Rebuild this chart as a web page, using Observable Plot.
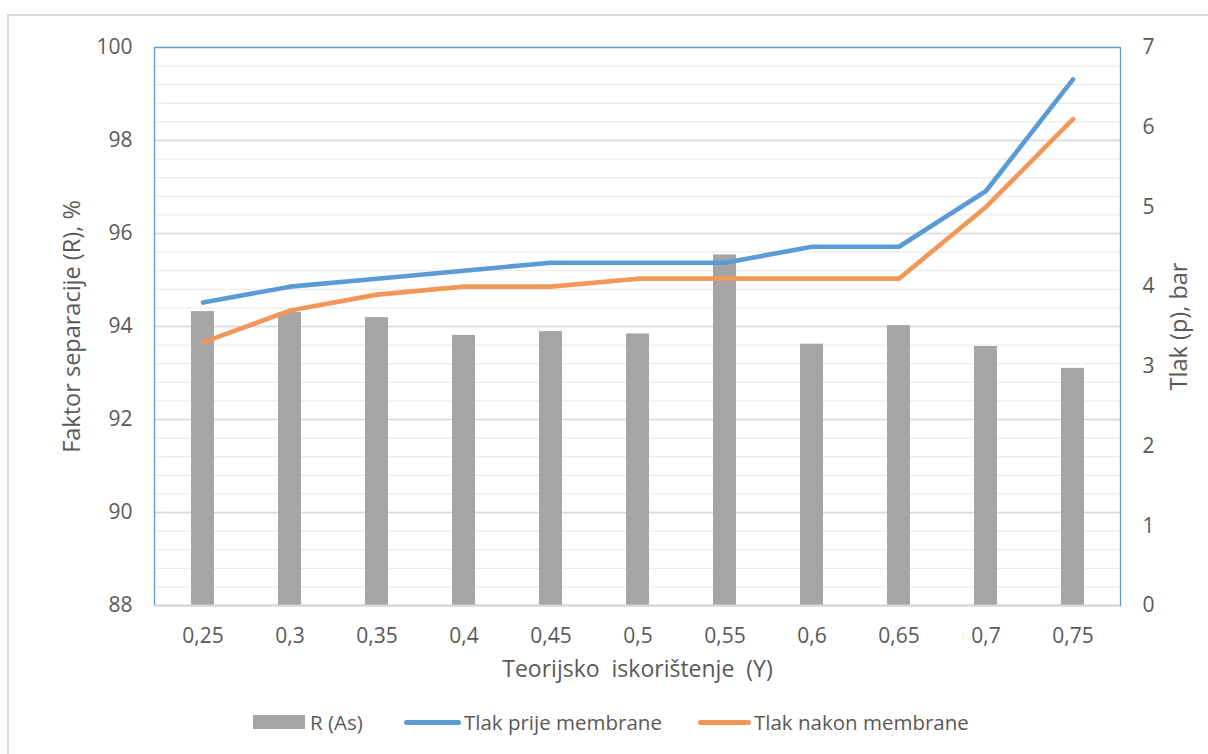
<!DOCTYPE html>
<html>
<head>
<meta charset="utf-8">
<script src="https://cdn.jsdelivr.net/npm/d3@7"></script>
<script src="https://cdn.jsdelivr.net/npm/@observablehq/plot@0.6"></script>
<style>
  html, body { margin: 0; padding: 0; background: #fff; overflow: hidden; }
  body { width: 1208px; height: 754px; position: relative; font-family: "Open Sans", sans-serif; }
  #border { position: absolute; left: 7px; top: 14px; width: 1400px; height: 1000px; border-left: 2px solid #d9d9d9; border-top: 2px solid #d9d9d9; }
  #chart { position: absolute; left: 0; top: 0; }
  #legend { position: absolute; left: 0; top: 700px; width: 1208px; height: 44px; }
  .item { position: absolute; top: 0; height: 44px; display: flex; align-items: center; font-size: 20.5px; color: #595959; white-space: nowrap; }
  .sw { display: inline-block; margin-right: 5px; }
</style>
</head>
<body>
<div id="border"></div>
<div id="chart"></div>
<div id="legend"></div>
<script>
// Categories (Teorijsko iskorištenje Y)
const categories = ["0,25","0,3","0,35","0,4","0,45","0,5","0,55","0,6","0,65","0,7","0,75"];
// Faktor separacije R (As), % (left axis)
const rAs = [94.32, 94.30, 94.19, 93.81, 93.89, 93.84, 95.54, 93.62, 94.02, 93.57, 93.10];
// Tlak prije membrane, bar (right axis)
const tlakPrije = [3.8, 4.0, 4.1, 4.2, 4.3, 4.3, 4.3, 4.5, 4.5, 5.2, 6.6];
// Tlak nakon membrane, bar (right axis)
const tlakNakon = [3.3, 3.7, 3.9, 4.0, 4.0, 4.1, 4.1, 4.1, 4.1, 5.0, 6.1];
// Axis ticks
const leftTicks = [88, 90, 92, 94, 96, 98, 100];
const rightTicks = [0, 1, 2, 3, 4, 5, 6, 7];
const seriesNames = ["R (As)", "Tlak prije membrane", "Tlak nakon membrane"];
const colors = {bar: "#a5a5a5", prije: "#5b9bd5", nakon: "#f19858"};

const yMin = 88, yMax = 100, pMax = 7;
const toLeft = p => yMin + p * (yMax - yMin) / pMax;

const data = categories.map((c, i) => ({cat: c, r: rAs[i], p1: tlakPrije[i], p2: tlakNakon[i]}));
const minorGrid = d3.range(yMin, yMax + 0.001, 0.4).map(v => +v.toFixed(1));

const font = "Open Sans";
const tickFs = 21;
const plot = Plot.plot({
  width: 1208,
  height: 700,
  marginLeft: 154,
  marginRight: 88,
  marginTop: 47,
  marginBottom: 95,
  style: {fontFamily: font, fontSize: "21px", color: "#595959", background: "transparent"},
  x: {domain: categories, paddingInner: 0.74, paddingOuter: 0.37},
  y: {domain: [yMin, yMax]},
  marks: [
    Plot.ruleY(minorGrid, {stroke: "#ececec", strokeWidth: 1.3}),
    Plot.ruleY(leftTicks, {stroke: "#d9d9d9", strokeWidth: 1.3}),
    Plot.barY(data, {x: "cat", y1: yMin, y2: "r", fill: colors.bar}),
    Plot.frame({stroke: colors.prije, strokeWidth: 1.3}),
    Plot.ruleY([yMin], {stroke: "#d9d9d9", strokeWidth: 2}),
    Plot.lineY(data, {x: "cat", y: d => toLeft(d.p1), stroke: colors.prije, strokeWidth: 4.6, strokeLinecap: "round", strokeLinejoin: "round"}),
    Plot.lineY(data, {x: "cat", y: d => toLeft(d.p2), stroke: colors.nakon, strokeWidth: 4.6, strokeLinecap: "round", strokeLinejoin: "round"}),
    Plot.axisY(leftTicks, {anchor: "left", tickSize: 0, tickPadding: 22, label: null, fill: "#595959", fontSize: tickFs}),
    Plot.axisY(rightTicks.map(toLeft), {anchor: "right", tickSize: 0, tickPadding: 22, label: null, fill: "#595959", fontSize: tickFs,
      tickFormat: v => String(Math.round((v - yMin) * pMax / (yMax - yMin)))}),
    Plot.axisX({anchor: "bottom", tickSize: 0, tickPadding: 23, label: null, fill: "#595959", fontSize: tickFs}),
    Plot.text(["Faktor separacije (R), %"], {frameAnchor: "left", textAnchor: "middle", dx: -82, rotate: -90, fontSize: 23.5, fill: "#595959"}),
    Plot.text(["Tlak (p), bar"], {frameAnchor: "right", textAnchor: "middle", dx: 59, rotate: -90, fontSize: 23.5, fill: "#595959"}),
    Plot.text(["Teorijsko  iskorištenje  (Y)"], {frameAnchor: "bottom", textAnchor: "middle", dy: 71, fontSize: 23, fill: "#595959"})
  ]
});
document.getElementById("chart").appendChild(plot);

// Legend
const legend = document.getElementById("legend");
const items = [
  {name: seriesNames[0], left: 253, sw: `<span class="sw" style="width:52px;height:14px;background:${colors.bar}"></span>`},
  {name: seriesNames[1], left: 404, sw: `<span class="sw" style="width:57px;height:5px;border-radius:3px;background:${colors.prije};margin-right:3px"></span>`},
  {name: seriesNames[2], left: 698, sw: `<span class="sw" style="width:53px;height:5px;border-radius:3px;background:${colors.nakon};margin-right:3px"></span>`}
];
for (const it of items) {
  const d = document.createElement("div");
  d.className = "item";
  d.style.left = it.left + "px";
  d.innerHTML = it.sw + `<span>${it.name}</span>`;
  legend.appendChild(d);
}
</script>
</body>
</html>
